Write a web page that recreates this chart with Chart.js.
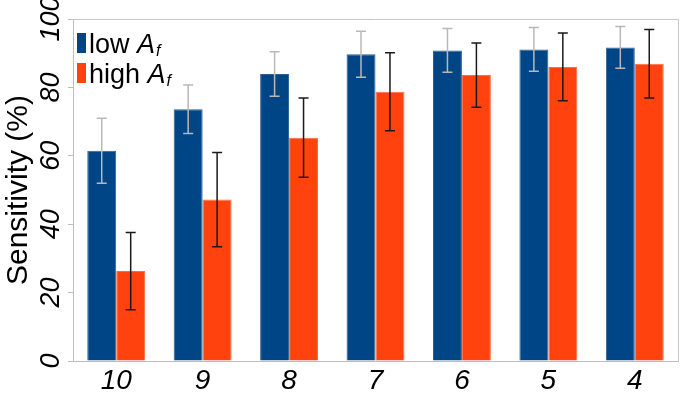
<!DOCTYPE html>
<html>
<head>
<meta charset="utf-8">
<script src="https://cdn.jsdelivr.net/npm/chart.js@4/dist/chart.umd.min.js"></script>
<style>
  html, body { margin: 0; padding: 0; background: #fff; }
  #wrap { width: 700px; height: 395px; }
</style>
</head>
<body>
<div id="wrap"><canvas id="chart" width="700" height="395"></canvas></div>
<script>
const categories = ['10', '9', '8', '7', '6', '5', '4'];
const lowValues = [61.5, 73.6, 83.9, 89.7, 90.8, 91.1, 91.7];
const lowErr = [9.5, 7.1, 6.5, 6.7, 6.4, 6.4, 6.1];
const highValues = [26.3, 47.2, 65.3, 78.7, 83.6, 86.0, 86.9];
const highErr = [11.3, 13.8, 11.6, 11.4, 9.4, 9.9, 10.0];
const yTicks = [0, 20, 40, 60, 80, 100];

const FONT = '"Liberation Sans", Arial, sans-serif';

// error bars, drawn from the y scale
const errorBars = {
  id: 'errorBars',
  afterDatasetsDraw(chart) {
    const ctx = chart.ctx;
    const y = chart.scales.y;
    const errs = [lowErr, highErr];
    const colors = ['#b8b8b8', '#1a1a1a'];
    chart.data.datasets.forEach((ds, di) => {
      const meta = chart.getDatasetMeta(di);
      meta.data.forEach((bar, i) => {
        const v = ds.data[i];
        const top = y.getPixelForValue(v + errs[di][i]);
        const bot = y.getPixelForValue(v - errs[di][i]);
        ctx.save();
        ctx.strokeStyle = colors[di];
        ctx.lineWidth = 1.5;
        ctx.beginPath();
        ctx.moveTo(bar.x, top); ctx.lineTo(bar.x, bot);
        ctx.moveTo(bar.x - 5, top); ctx.lineTo(bar.x + 5, top);
        ctx.moveTo(bar.x - 5, bot); ctx.lineTo(bar.x + 5, bot);
        ctx.stroke();
        ctx.restore();
      });
    });
  }
};

// frame on top and right of the plot area
const frame = {
  id: 'frame',
  beforeDatasetsDraw(chart) {
    const {ctx, chartArea: a} = chart;
    ctx.save();
    ctx.strokeStyle = '#c8c8c8';
    ctx.lineWidth = 1;
    ctx.beginPath();
    ctx.moveTo(a.left, a.top + 0.5); ctx.lineTo(a.right + 0.5, a.top + 0.5);
    ctx.lineTo(a.right + 0.5, a.bottom);
    ctx.stroke();
    ctx.restore();
  }
};

// legend with italic A and subscript f
const legendBox = {
  id: 'legendBox',
  afterDraw(chart) {
    const ctx = chart.ctx;
    const a = chart.chartArea;
    const x0 = a.left + 4;
    const rows = [
      {label: 'low ', y: a.top + 34},
      {label: 'high ', y: a.top + 64}
    ];
    ctx.save();
    chart.data.datasets.forEach((ds, i) => {
      const r = rows[i];
      ctx.fillStyle = ds.backgroundColor;
      ctx.fillRect(x0, r.y - 20, 9, 20);
      ctx.fillStyle = '#000';
      ctx.textBaseline = 'alphabetic';
      ctx.font = '27px ' + FONT;
      let x = x0 + 12;
      ctx.fillText(r.label, x, r.y);
      x += ctx.measureText(r.label).width;
      ctx.font = 'italic 27px ' + FONT;
      ctx.fillText('A', x, r.y);
      x += ctx.measureText('A').width + 1;
      ctx.font = 'italic 16px ' + FONT;
      ctx.fillText('f', x, r.y + 3);
    });
    ctx.restore();
  }
};

new Chart(document.getElementById('chart'), {
  type: 'bar',
  data: {
    labels: categories,
    datasets: [{
      label: 'low Af',
      data: lowValues,
      backgroundColor: '#004586',
      borderColor: '#2b5f94',
      borderWidth: 1,
      categoryPercentage: 0.67,
      barPercentage: 1
    }, {
      label: 'high Af',
      data: highValues,
      backgroundColor: '#ff420e',
      borderColor: '#ff6a42',
      borderWidth: 1,
      categoryPercentage: 0.67,
      barPercentage: 1
    }]
  },
  options: {
    responsive: false,
    devicePixelRatio: 1,
    animation: false,
    layout: { padding: { top: 19, right: 22, left: 0, bottom: 0 } },
    plugins: {
      legend: { display: false },
      tooltip: { enabled: false }
    },
    scales: {
      x: {
        afterFit(scale) { scale.height = 34; },
        grid: { display: false, drawTicks: false },
        border: { display: true, color: '#bdbdbd', width: 1 },
        ticks: {
          color: '#000',
          padding: 3,
          font: { family: FONT, size: 28, style: 'italic' }
        }
      },
      y: {
        min: 0,
        max: 100,
        afterFit(scale) { scale.width = 73; },
        grid: { drawOnChartArea: false, drawTicks: true, tickLength: 5, color: '#bdbdbd' },
        border: { display: true, color: '#bdbdbd', width: 1 },
        ticks: {
          stepSize: 10,
          minRotation: 90,
          maxRotation: 90,
          crossAlign: 'center',
          padding: -6,
          color: '#000',
          font: { family: FONT, size: 27, style: 'italic' },
          callback: function (value) {
            return yTicks.includes(value) ? String(value) : '';
          }
        },
        title: {
          display: true,
          text: 'Sensitivity (%)',
          color: '#000',
          padding: { top: 1, bottom: 0 },
          font: { family: FONT, size: 30 }
        }
      }
    }
  },
  plugins: [frame, errorBars, legendBox]
});
</script>
</body>
</html>
